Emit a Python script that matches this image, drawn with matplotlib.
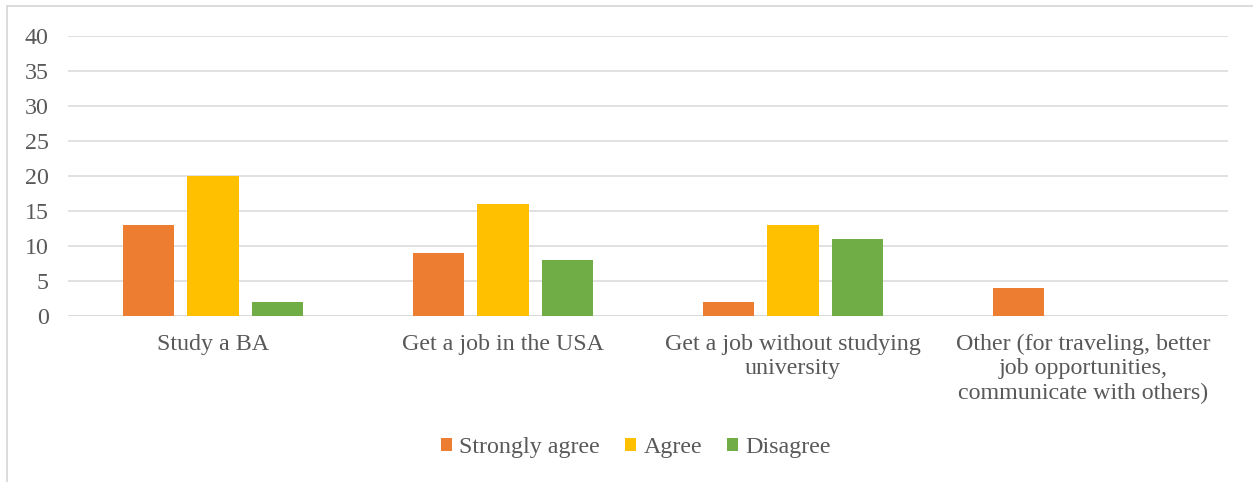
import matplotlib
matplotlib.use("Agg")
import matplotlib.pyplot as plt
from matplotlib.patches import Patch
from matplotlib.lines import Line2D
import numpy as np

categories = ["Study a BA", "Get a job in the USA",
              "Get a job without studying\nuniversity",
              "Other (for traveling, better\njob opportunities,\ncommunicate with others)"]
series_names = ["Strongly agree", "Agree", "Disagree"]
strongly_agree = [13, 9, 2, 4]
agree = [20, 16, 13, 0]
disagree = [2, 8, 11, 0]
colors = ["#ED7D31", "#FFC000", "#70AD47"]
yticks = [0, 5, 10, 15, 20, 25, 30, 35, 40]

plt.rcParams['font.family'] = ['Liberation Serif', 'DejaVu Serif']
text_color = "#595959"
grid_color = "#D9D9D9"
fs = 17.3

fig = plt.figure(figsize=(12.53, 4.82), dpi=100)
ax = fig.add_axes([68/1253, 1-316/482, (1228-68)/1253, (316-36)/482])

x = np.arange(len(categories))
width = 0.176
step = 0.222
for i, (vals, col) in enumerate(zip([strongly_agree, agree, disagree], colors)):
    ax.bar(x + (i-1)*step, vals, width=width, color=col, zorder=3)

ax.set_xlim(-0.5, len(categories)-0.5)
ax.set_ylim(0, 40)
ax.set_yticks(yticks)
ax.set_xticks(x)
ax.set_xticklabels(categories, linespacing=1.2)
ax.tick_params(axis='both', length=0, labelsize=fs, colors=text_color)
ax.tick_params(axis='y', pad=14)
ax.tick_params(axis='x', pad=13)
ax.yaxis.grid(True, color=grid_color, linewidth=1.1, zorder=0)
for s in ax.spines.values():
    s.set_visible(False)
ax.axhline(0, color=grid_color, linewidth=1.1, zorder=2)

handles = [Patch(facecolor=c, edgecolor='none') for c in colors]
leg = fig.legend(handles, series_names, loc='center', bbox_to_anchor=(636/1253, 1-448/482),
                 ncol=3, frameon=False, fontsize=fs, handlelength=0.45, handleheight=0.45,
                 handletextpad=0.3, columnspacing=1.05)
for t in leg.get_texts():
    t.set_color(text_color)

# chart border (top and left visible)
fig.add_artist(Line2D([7/1253, 1.0], [1-6/482, 1-6/482], transform=fig.transFigure,
                      color=grid_color, linewidth=1.3))
fig.add_artist(Line2D([7/1253, 7/1253], [0, 1-6/482], transform=fig.transFigure,
                      color=grid_color, linewidth=1.3))

fig.savefig("out.png", dpi=100, facecolor="white")
